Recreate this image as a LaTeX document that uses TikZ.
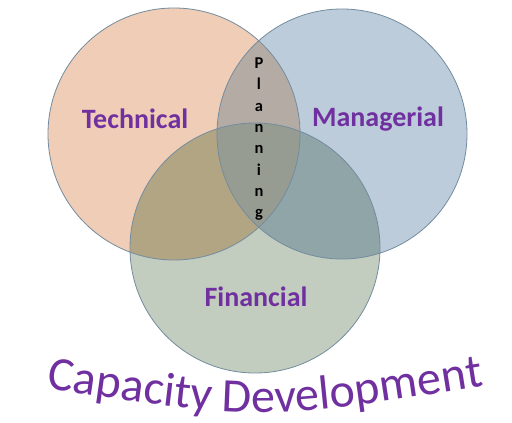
\documentclass[tikz,border=0pt]{standalone}
\usepackage{fontspec}
\setmainfont{Carlito}
\usetikzlibrary{decorations.text}
\definecolor{purp}{RGB}{112,48,160}
\definecolor{cL}{RGB}{240,205,182}
\definecolor{cR}{RGB}{188,204,218}
\definecolor{cB}{RGB}{195,205,191}
\definecolor{cLR}{RGB}{181,171,165}
\definecolor{cLB}{RGB}{178,165,132}
\definecolor{cRB}{RGB}{143,165,168}
\definecolor{cLRB}{RGB}{151,156,146}
\definecolor{edge}{RGB}{115,140,158}
\tikzset{
  lbl/.style={text=purp, font=\fontsize{28}{28}\selectfont\bfseries, inner sep=0pt},
  plet/.style={text=black, font=\fontsize{16.5}{16.5}\selectfont\bfseries, inner sep=0pt, anchor=base},
  ring/.style={draw=edge, line width=0.8pt}
}
\begin{document}
\begin{tikzpicture}[x=1pt,y=1pt]
\useasboundingbox (0,0) rectangle (512,-423);
\fill[white] (0,0) rectangle (512,-423);
\def\Lc{(174,-134) circle (126)}
\def\Rc{(342,-134) circle (125)}
\def\Bc{(255,-248) circle (125)}
\fill[cL] \Lc;
\fill[cR] \Rc;
\fill[cB] \Bc;
\begin{scope}\clip \Lc; \fill[cLR] \Rc; \end{scope}
\begin{scope}\clip \Lc; \fill[cLB] \Bc; \end{scope}
\begin{scope}\clip \Rc; \fill[cRB] \Bc; \end{scope}
\begin{scope}\clip \Lc; \clip \Rc; \fill[cLRB] \Bc; \end{scope}
\draw[ring] \Lc;
\draw[ring] \Rc;
\draw[ring] \Bc;
\node[lbl] (tech) at (135,-119) {Technical};
\node[lbl] (man) at (378,-119) {Managerial};
\node[lbl] (fin) at (256,-297) {Financial};
\foreach \ch [count=\k] in {P,l,a,n,n,i,n,g} {
  \node[plet] (p\k) at (259,{-68.5-21.3*(\k-1)}) {\ch};
}
\path[decorate, decoration={text along path, text align=center,
  text={|\fontsize{48}{48}\selectfont\color{purp}|Capacity Development}}]
  (40,-388) .. controls (265,-421) .. (490,-385);
\end{tikzpicture}
\end{document}
